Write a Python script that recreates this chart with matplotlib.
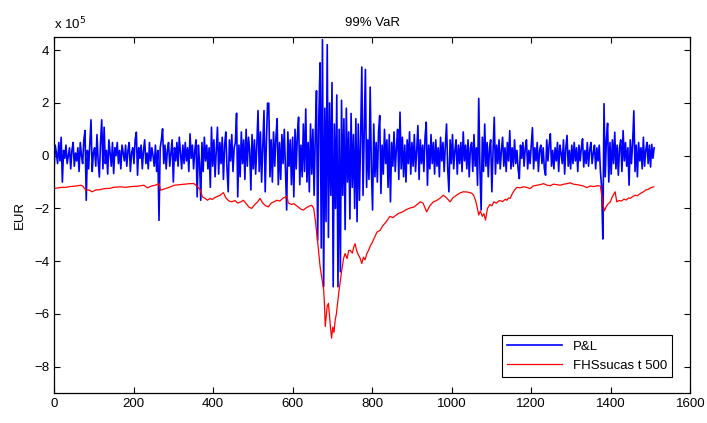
import numpy as np
import matplotlib
matplotlib.use('Agg')
import matplotlib.pyplot as plt

# P&L, one reading every 3 days, in units of 1e5 EUR
pnl_step = 3
pnl = [
    -0.6, 0.4, 0.1, -0.3, 0.5, -0.2, 0.7, -1.0, 0.2, -0.1,
    0.4, -0.3, 0.0, 0.3, -0.5, 0.2, 0.5, -0.4, 0.1, -0.2,
    0.3, -0.6, 0.5, 0.0, -0.3, 0.6, 0.95, -1.69, 0.2, -0.5,
    0.4, 1.36, -0.6, 0.1, 0.3, -0.4, 0.8, -0.2, -0.81, 0.5,
    1.36, -0.5, 1.08, -0.3, 0.2, -0.7, 0.6, 0.1, -0.4, 0.5,
    -0.68, 0.3, 0.0, 0.5, -0.3, 0.2, -0.5, 0.4, 0.1, -0.2,
    0.4, -0.4, 0.2, 0.5, -0.6, 0.1, 0.3, -0.3, 0.6, 0.89,
    -0.74, 0.3, -0.1, 0.4, -0.5, 0.2, 0.6, -0.3, 0.1, -0.5,
    0.5, -0.2, 0.3, 0.0, -0.4, 0.4, -0.6, 0.2, -2.45, 0.3,
    0.6, 1.02, -0.3, 0.4, -0.5, 0.2, 0.5, -0.4, 0.1, 0.6,
    -1.0, 0.3, -0.2, 0.5, -0.4, 0.7, 0.1, -0.5, 0.4, -0.3,
    0.5, -0.2, 0.3, -0.6, 0.83, -0.1, 0.4, -0.5, 0.2, 0.6,
    -1.56, 0.4, -0.3, -1.69, 0.5, -0.6, 0.7, -0.2, 0.4, -0.5,
    0.3, -1.2, 1.08, -0.4, 0.6, -0.8, 0.2, 1.08, -0.7, 0.5,
    -0.3, 0.7, -0.9, 0.4, 0.9, -0.5, -1.37, 0.6, -0.2, 0.8,
    -0.6, 0.3, 0.5, 1.61, -1.56, 0.4, -0.8, 0.9, -0.3, 0.6,
    -0.9, 1.0, -0.4, 0.7, 0.2, -1.3, 0.8, -0.5, 0.6, -0.7,
    0.4, 1.71, -0.6, 0.9, -1.0, 0.3, 1.71, -1.37, 0.5, 1.99,
    1.99, -0.8, 0.6, -1.0, 0.9, -0.4, 0.7, 1.4, -1.1, 0.5,
    -0.9, 0.8, -0.3, 1.0, -0.6, -2.06, 0.9, -0.4, 0.6, -1.1,
    0.7, -1.56, 1.0, -0.5, 0.8, 1.46, -1.1, 0.4, -0.8, 1.2,
    -0.6, 1.77, -1.0, 0.5, -1.37, 1.2, -0.7, 1.0, -1.5, 0.8,
    2.46, -3.2, 1.5, 3.52, -3.5, 4.4, -4.97, 1.8, -2.5, 4.21,
    -3.1, 2.0, -1.5, 2.77, -4.97, 1.2, -2.0, 2.3, -4.97, 1.0,
    -4.4, 2.1, -1.5, 1.4, -2.8, 1.8, -1.0, 0.9, -2.4, 1.6,
    -1.2, 0.8, -2.0, 1.4, -2.5, 1.2, -1.69, 0.7, 3.36, -1.5,
    1.0, 3.27, -1.2, 0.6, -0.9, 2.6, -0.5, -2.06, 1.2, -0.8,
    0.5, -1.0, 0.9, 1.52, -1.43, 0.4, -0.7, 1.0, -0.3, 0.6,
    -1.2, 0.8, -1.75, 0.5, -0.4, 0.9, -0.6, 0.3, 1.0, -0.9,
    1.65, -0.5, 0.7, -0.8, 0.4, -1.0, 0.6, -0.3, 0.9, -0.7,
    0.5, -0.4, 0.8, -0.6, 0.2, 1.14, -0.9, 0.6, -0.3, 0.4,
    -0.6, 0.7, 1.27, -1.12, 0.4, -0.5, 0.8, -0.3, 0.5, -0.7,
    0.6, -0.4, 0.3, -0.8, 0.7, -0.2, 0.5, -0.6, 0.4, 1.2,
    -0.5, -1.37, 0.6, -0.3, 0.8, -0.5, 0.2, 0.6, -0.7, 0.4,
    -0.3, 0.5, -0.6, 0.9, -0.2, 0.4, -0.5, 0.6, -0.8, 0.3,
    0.5, -0.6, 0.8, -0.4, 0.3, -1.12, 2.17, -0.5, -2.06, 0.7,
    -0.6, 1.2, -0.4, 0.5, -0.8, 0.3, 0.6, -1.37, 0.2, 1.46,
    -0.7, 0.4, -0.3, 0.6, -0.5, 0.2, 0.7, -0.4, 0.3, -0.6,
    0.5, -0.2, 0.95, -0.5, 0.3, -0.4, 0.6, -0.3, 0.2, -0.5,
    -0.87, 0.4, -0.1, 0.5, -0.4, 0.3, 0.6, -0.5, 0.2, -0.3,
    0.4, 1.06, -0.5, 0.3, -0.2, 0.5, -0.6, 0.2, 0.4, -0.3,
    0.3, -0.5, -0.74, 0.6, -0.2, 0.4, 0.83, -0.4, 0.2, -0.5,
    0.3, -0.2, 0.5, -0.6, 0.4, 0.1, -0.3, 0.6, -0.7, 0.3,
    0.77, -0.4, 0.2, -0.5, 0.4, -0.3, 0.5, -0.2, 0.3, -0.6,
    0.4, -0.2, 0.3, 0.64, -0.43, 0.2, -0.3, 0.5, -0.4, 0.2,
    0.5, -0.3, 0.1, 0.4, -0.5, 0.3, -0.2, 0.4, -0.6, -1.2,
    -3.16, 1.97, -0.8, 0.6, 1.23, -1.0, 0.5, -0.7, 0.6, -0.3,
    0.89, -0.5, 0.4, -0.74, 0.3, 0.6, -0.6, 0.95, -0.2, 0.5,
    -0.4, 0.3, -1.12, 0.6, -0.3, 0.5, 1.7, -0.6, 0.4, -0.8,
    0.5, -0.2, 0.3, -0.5, 0.7, -0.4, 0.2, 0.5, -0.3, 0.4,
    -0.43, 0.43, -0.1, 0.3,
]

# FHS VaR estimate: day and value (1e5 EUR)
var_days = [
    0, 10, 20, 30, 40, 50, 60, 67, 72, 80, 88, 96, 105, 115, 126, 140,
    150, 168, 180, 195, 210, 226, 235, 245, 255, 264, 268, 280, 290, 302,
    315, 330, 342, 352, 361, 368, 373, 380, 386, 392, 398, 403, 410, 418,
    426, 432, 440, 447, 455, 462, 470, 476, 485, 490, 497, 505, 512, 518,
    525, 532, 539, 546, 553, 560, 568, 575, 580, 586, 589, 597, 603, 610,
    617, 622, 627, 634, 641, 648, 653, 657, 661, 665, 669, 673, 678, 680,
    682, 685, 687, 690, 693, 695, 698, 701, 704, 707, 710, 713, 716, 719,
    724, 728, 732, 737, 741, 745, 750, 754, 757, 761, 765, 770, 774, 778,
    782, 787, 791, 796, 800, 806, 812, 820, 827, 833, 840, 845, 852, 858,
    865, 870, 878, 885, 896, 905, 913, 921, 928, 937, 945, 954, 962, 970,
    979, 987, 996, 1003, 1012, 1020, 1029, 1040, 1050, 1055, 1060, 1064,
    1068, 1072, 1077, 1081, 1085, 1090, 1096, 1101, 1106, 1112, 1120, 1128,
    1135, 1139, 1143, 1147, 1152, 1158, 1164, 1172, 1180, 1188, 1197, 1205,
    1214, 1222, 1231, 1240, 1248, 1256, 1265, 1273, 1282, 1290, 1298, 1306,
    1315, 1323, 1331, 1340, 1348, 1357, 1366, 1374, 1378, 1381, 1384, 1388,
    1392, 1399, 1404, 1408, 1411, 1415, 1421, 1427, 1433, 1439, 1445, 1449,
    1455, 1461, 1467, 1473, 1478, 1482, 1488, 1494, 1500, 1508,
]
var_vals = [
    -1.25, -1.22, -1.2, -1.2, -1.17, -1.16, -1.14, -1.12, -1.15, -1.31, -1.3, -1.37, -1.3, -1.29, -1.25, -1.24,
    -1.2, -1.18, -1.2, -1.17, -1.16, -1.12, -1.22, -1.15, -1.12, -1.06, -1.31, -1.25, -1.2, -1.12,
    -1.1, -1.08, -1.06, -1.06, -1.18, -1.3, -1.56, -1.62, -1.69, -1.62, -1.66, -1.6, -1.55, -1.5,
    -1.4, -1.6, -1.72, -1.75, -1.7, -1.8, -1.75, -1.69, -1.85, -1.95, -2.0, -1.85, -1.75, -1.62,
    -1.8, -1.9, -1.94, -1.8, -1.75, -1.69, -1.72, -1.62, -1.58, -1.54, -1.79, -1.85, -1.82, -1.9,
    -1.98, -2.04, -2.06, -1.98, -1.92, -1.88, -2.0, -2.44, -3.0, -3.57, -4.2, -4.6, -5.09, -5.6,
    -6.48, -6.0, -5.7, -5.6, -6.1, -6.5, -6.92, -6.5, -6.7, -6.23, -6.0, -5.6, -5.2, -4.85,
    -4.3, -3.9, -3.71, -3.9, -3.6, -3.59, -3.7, -3.45, -3.34, -3.6, -3.75, -3.9, -4.09, -3.85,
    -3.95, -3.7, -3.59, -3.4, -3.3, -3.1, -2.9, -2.83, -2.65, -2.55, -2.4, -2.3, -2.35, -2.28,
    -2.2, -2.17, -2.12, -2.05, -1.98, -1.95, -1.85, -1.75, -1.8, -2.13, -1.9, -1.75, -1.7, -1.62,
    -1.5, -1.6, -1.75, -1.6, -1.5, -1.42, -1.37, -1.38, -1.42, -1.5, -1.7, -1.95,
    -2.25, -2.1, -2.3, -2.2, -2.44, -2.0, -1.85, -1.9, -1.75, -1.8, -1.7, -1.74,
    -1.65, -1.69, -1.6, -1.62, -1.45, -1.3, -1.2, -1.22, -1.18, -1.2, -1.25, -1.15,
    -1.12, -1.1, -1.06, -1.12, -1.14, -1.08, -1.1, -1.12, -1.08, -1.06, -1.03, -1.08,
    -1.1, -1.12, -1.15, -1.21, -1.15, -1.17, -1.14, -1.15, -1.56, -1.9, -2.09, -1.95,
    -1.85, -1.75, -1.55, -1.45, -1.37, -1.75, -1.7, -1.72, -1.65, -1.68, -1.6, -1.62,
    -1.55, -1.5, -1.52, -1.45, -1.4, -1.37, -1.3, -1.28, -1.22, -1.18,
]

days = np.arange(len(pnl)) * pnl_step

plt.rcParams['font.family'] = ['Liberation Sans', 'DejaVu Sans']
fig = plt.figure(figsize=(7.07, 4.23), dpi=100)
ax = fig.add_axes([0.0764, 0.0709, 0.9, 0.8416])

ax.plot(days, pnl, color='#0000ff', lw=1.2, label='P&L')
ax.plot(var_days, var_vals, color='#ff0000', lw=0.9, label='FHSsucas t 500')

ax.set_xlim(0, 1600)
ax.set_ylim(-9, 4.5)
ax.set_xticks(np.arange(0, 1601, 200))
ax.set_yticks(np.arange(-8, 5, 2))
ax.tick_params(direction='in', length=4, width=0.8, top=True, right=True,
               labelsize=9.5, colors='black')
for s in ax.spines.values():
    s.set_linewidth(0.9)

ax.set_title('99% VaR', fontsize=9.5, pad=8)
ax.set_ylabel('EUR', fontsize=9.5, labelpad=6)
ax.text(0, 1.012, r'x 10$^5$', transform=ax.transAxes, fontsize=9.5,
        ha='left', va='bottom')

leg = ax.legend(loc='lower right', bbox_to_anchor=(0.9717, 0.045),
                borderaxespad=0, fancybox=False, framealpha=1,
                edgecolor='black', fontsize=9.5, handlelength=4.2)
leg.get_frame().set_linewidth(0.8)

fig.savefig('out.png', dpi=100)
